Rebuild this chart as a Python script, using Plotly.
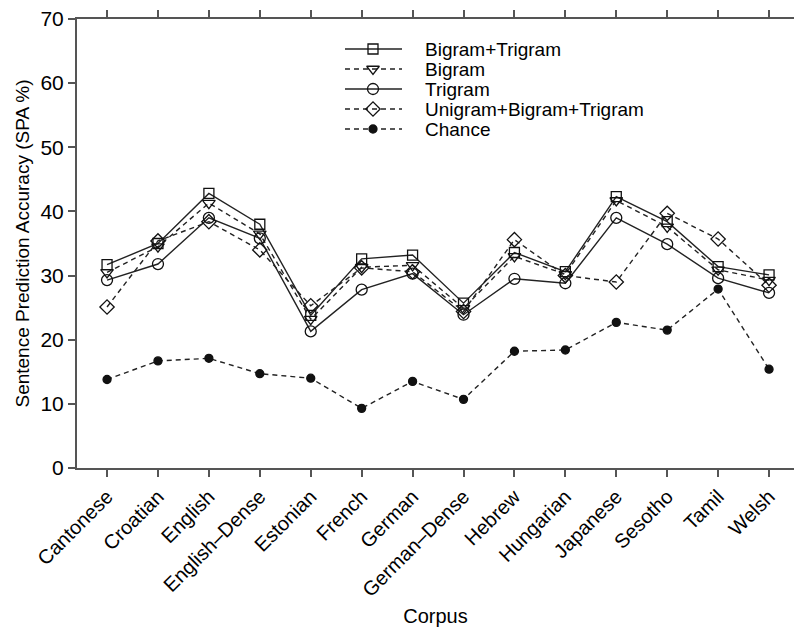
import plotly.graph_objects as go

corpora = ["Cantonese", "Croatian", "English", "English\u2013Dense", "Estonian", "French",
           "German", "German\u2013Dense", "Hebrew", "Hungarian", "Japanese", "Sesotho",
           "Tamil", "Welsh"]

bigram_trigram = [31.7, 35.0, 42.8, 38.0, 23.8, 32.6, 33.2, 25.7, 33.6, 30.6, 42.3, 38.4, 31.4, 30.1]
bigram = [30.5, 34.5, 41.3, 36.5, 23.2, 31.3, 31.6, 24.9, 33.0, 30.2, 41.7, 37.6, 30.9, 29.3]
trigram = [29.3, 31.8, 39.0, 35.8, 21.3, 27.8, 30.3, 23.9, 29.5, 28.8, 39.0, 34.9, 29.6, 27.3]
uni_bi_tri = [25.1, 35.4, 38.4, 34.0, 25.3, 31.2, 30.6, 24.4, 35.6, 30.0, 29.0, 39.7, 35.7, 28.5]
chance = [13.8, 16.7, 17.1, 14.7, 14.0, 9.3, 13.5, 10.7, 18.2, 18.4, 22.7, 21.5, 27.9, 15.4]

DASH = "5px,4px"
series = [
    ("Bigram+Trigram", bigram_trigram, "solid", "square-open", 10),
    ("Bigram", bigram, DASH, "triangle-down-open", 11),
    ("Trigram", trigram, "solid", "circle-open", 11),
    ("Unigram+Bigram+Trigram", uni_bi_tri, DASH, "diamond-open", 11),
    ("Chance", chance, DASH, "circle", 8),
]

LINE = "#222222"
FONT = "Liberation Sans, Arial, Helvetica, sans-serif"

fig = go.Figure()
xs = list(range(len(corpora)))
for name, vals, dash, sym, size in series:
    fig.add_trace(go.Scatter(
        x=xs, y=vals, mode="lines+markers", name=name, showlegend=False,
        line=dict(color=LINE, width=1.4, dash=dash),
        marker=dict(symbol=sym, size=size, color="#111111",
                    line=dict(color="#111111", width=1.3)),
    ))

# hand-built legend on an overlay axis measured in plot pixels
leg_rows = [30, 50, 70, 90, 110]
for (name, vals, dash, sym, size), ry in zip(series, leg_rows):
    fig.add_trace(go.Scatter(
        x=[268, 325], y=[ry, ry], mode="lines", xaxis="x2", yaxis="y2",
        showlegend=False, hoverinfo="skip",
        line=dict(color=LINE, width=1.4, dash=dash)))
    fig.add_trace(go.Scatter(
        x=[296], y=[ry], mode="markers", xaxis="x2", yaxis="y2",
        showlegend=False, hoverinfo="skip",
        marker=dict(symbol=sym, size=size, color="#111111",
                    line=dict(color="#111111", width=1.3))))
    fig.add_annotation(x=346, y=ry, xref="x2", yref="y2", text=name,
                       showarrow=False, xanchor="left", yanchor="middle",
                       font=dict(family=FONT, size=19, color="black"))

fig.update_layout(
    width=794, height=627,
    margin=dict(l=77, r=0, t=19, b=159),
    plot_bgcolor="white", paper_bgcolor="white",
    font=dict(family=FONT, color="black"),
    xaxis=dict(
        range=[-0.59, 13.49], tickmode="array", tickvals=xs, ticktext=corpora,
        tickangle=-45, tickfont=dict(size=20), showgrid=False, zeroline=False,
        showline=True, linecolor="#555555", linewidth=2, mirror="ticks",
        ticks="outside", ticklen=7, tickcolor="#555555", tickwidth=1.5,
        automargin=False,
        title=dict(text="Corpus", font=dict(size=20), standoff=22),
    ),
    yaxis=dict(
        range=[0, 70], tickmode="array", tickvals=[0, 10, 20, 30, 40, 50, 60, 70],
        tickfont=dict(size=21), showgrid=False, zeroline=False,
        showline=True, linecolor="#555555", linewidth=2,
        ticks="outside", ticklen=7, tickcolor="#555555", tickwidth=1.5,
        automargin=False,
        title=dict(text="Sentence Prediction Accuracy (SPA %)", font=dict(size=19), standoff=6),
    ),
    xaxis2=dict(overlaying="x", range=[0, 717], visible=False, fixedrange=True),
    yaxis2=dict(overlaying="y", range=[449, 0], visible=False, fixedrange=True),
)

fig.write_html("out.html")
